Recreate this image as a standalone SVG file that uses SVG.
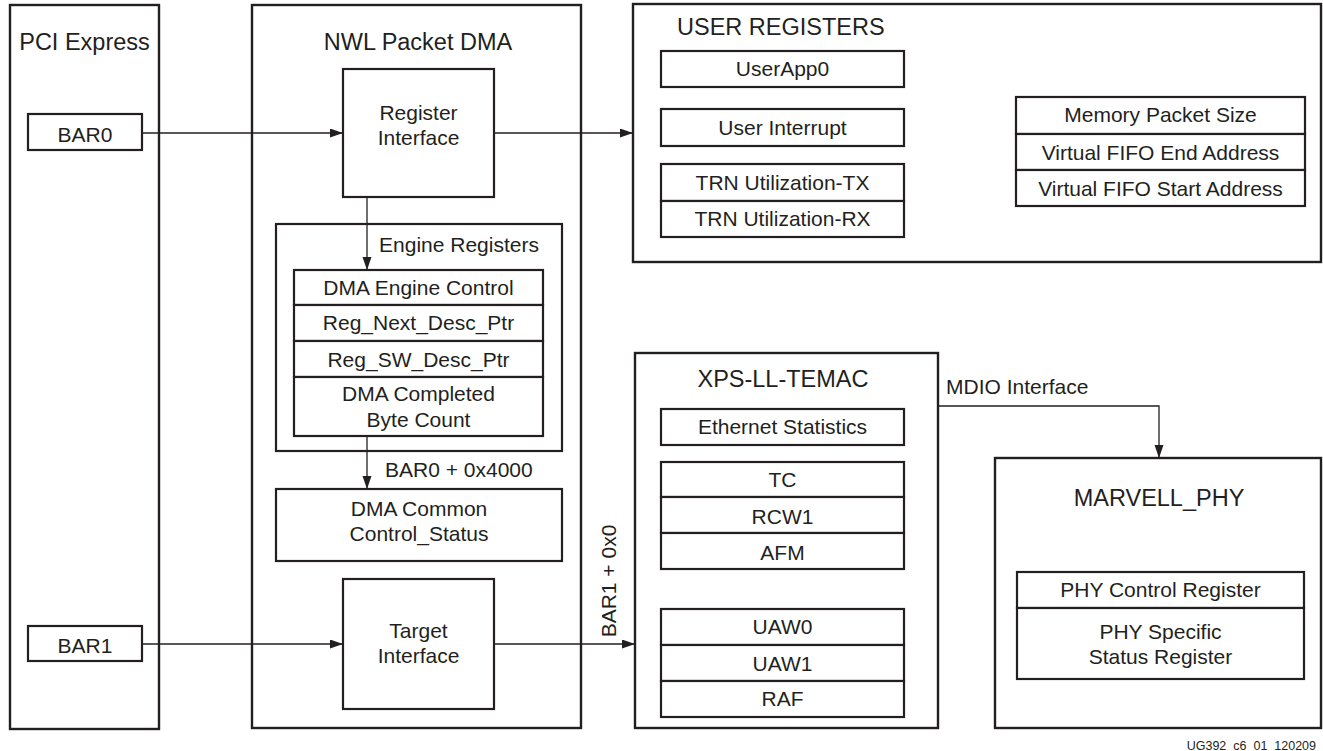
<svg xmlns="http://www.w3.org/2000/svg" width="1323" height="751" viewBox="0 0 1323 751">
<style>
.box{fill:#fff;stroke:#231f20;stroke-width:2.4}
.cell{fill:#fff;stroke:#231f20;stroke-width:2.2}
.t{font-family:"Liberation Sans",Arial,sans-serif;font-size:21px;fill:#231f20;text-anchor:middle}
.h{font-family:"Liberation Sans",Arial,sans-serif;font-size:23.5px;fill:#231f20;text-anchor:middle}
.l{text-anchor:start}
.c{fill:none;stroke:#231f20;stroke-width:1.3}
</style>
<defs>
<marker id="ah" markerUnits="userSpaceOnUse" markerWidth="14" markerHeight="10" refX="13" refY="4.5" orient="auto">
<path d="M0,0 L13,4.5 L0,9 z" fill="#231f20"/>
</marker>
</defs>
<rect width="1323" height="751" fill="#fff"/>

<g id="pci">
<rect class="box" x="10" y="5" width="149" height="724"/>
<text class="h" x="84.5" y="50">PCI Express</text>
</g>
<g id="bar0">
<rect class="cell" x="28" y="114" width="114" height="36"/>
<text class="t" x="85" y="142">BAR0</text>
</g>
<g id="bar1">
<rect class="cell" x="28" y="626" width="114" height="35"/>
<text class="t" x="85" y="653">BAR1</text>
</g>

<g id="nwl">
<rect class="box" x="252" y="5" width="329" height="723"/>
<text class="h" x="418" y="50">NWL Packet DMA</text>
</g>
<g id="reginterface">
<rect class="cell" x="343" y="69" width="151" height="128"/>
<text class="t" x="418.5" y="120">Register</text>
<text class="t" x="418.5" y="145">Interface</text>
</g>
<g id="engineregs">
<rect class="cell" x="276" y="224" width="286" height="227"/>
<text class="t" x="459" y="252">Engine Registers</text>
<rect class="cell" x="294" y="270" width="249" height="35"/>
<text class="t" x="418.5" y="295">DMA Engine Control</text>
<rect class="cell" x="294" y="305" width="249" height="36"/>
<text class="t" x="418.5" y="330">Reg_Next_Desc_Ptr</text>
<rect class="cell" x="294" y="341" width="249" height="36"/>
<text class="t" x="418.5" y="367">Reg_SW_Desc_Ptr</text>
<rect class="cell" x="294" y="377" width="249" height="59"/>
<text class="t" x="418.5" y="401">DMA Completed</text>
<text class="t" x="418.5" y="427">Byte Count</text>
</g>
<g id="dmacommon">
<rect class="cell" x="276" y="489" width="286" height="72"/>
<text class="t" x="419" y="516">DMA Common</text>
<text class="t" x="419" y="541">Control_Status</text>
</g>
<g id="targetinterface">
<rect class="cell" x="343" y="579" width="151" height="130"/>
<text class="t" x="418.5" y="638">Target</text>
<text class="t" x="418.5" y="663">Interface</text>
</g>

<g id="userregs">
<rect class="box" x="633" y="4" width="688" height="258"/>
<text class="h l" x="677" y="35">USER REGISTERS</text>
<rect class="cell" x="661" y="51" width="243" height="36"/>
<text class="t" x="782.5" y="76">UserApp0</text>
<rect class="cell" x="661" y="109" width="243" height="37"/>
<text class="t" x="782.5" y="135">User Interrupt</text>
<rect class="cell" x="661" y="164" width="243" height="37"/>
<text class="t" x="782.5" y="190">TRN Utilization-TX</text>
<rect class="cell" x="661" y="201" width="243" height="36"/>
<text class="t" x="782.5" y="226">TRN Utilization-RX</text>
<rect class="cell" x="1016" y="97" width="289" height="37"/>
<text class="t" x="1160.5" y="122">Memory Packet Size</text>
<rect class="cell" x="1016" y="134" width="289" height="36"/>
<text class="t" x="1160.5" y="160">Virtual FIFO End Address</text>
<rect class="cell" x="1016" y="170" width="289" height="36"/>
<text class="t" x="1160.5" y="196">Virtual FIFO Start Address</text>
</g>

<g id="xps">
<rect class="box" x="635" y="353" width="303" height="375"/>
<text class="h" x="783" y="387">XPS-LL-TEMAC</text>
<rect class="cell" x="661" y="409" width="243" height="36"/>
<text class="t" x="782.5" y="434">Ethernet Statistics</text>
<rect class="cell" x="661" y="462" width="243" height="35"/>
<text class="t" x="782.5" y="487">TC</text>
<rect class="cell" x="661" y="497" width="243" height="36"/>
<text class="t" x="782.5" y="524">RCW1</text>
<rect class="cell" x="661" y="533" width="243" height="36"/>
<text class="t" x="782.5" y="560">AFM</text>
<rect class="cell" x="661" y="609" width="243" height="36"/>
<text class="t" x="782.5" y="634">UAW0</text>
<rect class="cell" x="661" y="645" width="243" height="36"/>
<text class="t" x="782.5" y="671">UAW1</text>
<rect class="cell" x="661" y="681" width="243" height="36"/>
<text class="t" x="782.5" y="706">RAF</text>
</g>

<g id="marvell">
<rect class="box" x="995" y="458" width="326" height="270"/>
<text class="h" x="1159" y="506">MARVELL_PHY</text>
<rect class="cell" x="1017" y="572" width="287" height="36"/>
<text class="t" x="1160.5" y="597">PHY Control Register</text>
<rect class="cell" x="1017" y="608" width="287" height="71"/>
<text class="t" x="1160.5" y="639">PHY Specific</text>
<text class="t" x="1160.5" y="664">Status Register</text>
</g>

<g id="connectors">
<line class="c" x1="142" y1="133" x2="343" y2="133" marker-end="url(#ah)"/>
<line class="c" x1="494" y1="133" x2="633" y2="133" marker-end="url(#ah)"/>
<line class="c" x1="367" y1="197" x2="367" y2="270" marker-end="url(#ah)"/>
<line class="c" x1="367" y1="436" x2="367" y2="489" marker-end="url(#ah)"/>
<text class="t l" x="385" y="477">BAR0 + 0x4000</text>
<line class="c" x1="142" y1="644" x2="343" y2="644" marker-end="url(#ah)"/>
<line class="c" x1="494" y1="644" x2="635" y2="644" marker-end="url(#ah)"/>
<text class="t" transform="translate(616,581) rotate(-90)">BAR1 + 0x0</text>
<polyline class="c" points="938,406 1159,406 1159,458" marker-end="url(#ah)"/>
<text class="t l" x="946" y="394">MDIO Interface</text>
</g>

<text x="1316" y="750" font-family="Liberation Sans, Arial, sans-serif" font-size="12.5" fill="#231f20" text-anchor="end">UG392_c6_01_120209</text>
</svg>
